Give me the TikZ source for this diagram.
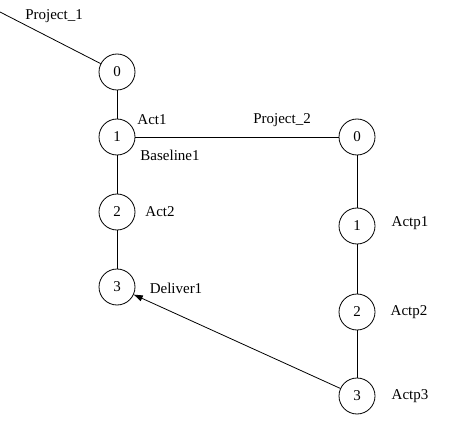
\documentclass[tikz,border=0pt]{standalone}
\usepackage{fontspec}
\setmainfont{Liberation Serif}
\usetikzlibrary{arrows.meta}
\begin{document}
\begin{tikzpicture}[x=1pt,y=-1pt,
  state/.style={circle,draw,line width=0.8pt,minimum size=36pt,inner sep=0pt,font=\fontsize{15}{18}\selectfont},
  lbl/.style={font=\fontsize{15}{18}\selectfont,inner sep=0pt},
  link/.style={line width=0.8pt}]
\useasboundingbox (0,0) rectangle (450,433);
% first project chain
\coordinate (start) at (0,12);
\node[state] (a0) at (117,72) {0};
\node[state] (a1) at (117,137) {1};
\node[state] (a2) at (117,212) {2};
\node[state] (a3) at (117,287) {3};
% second project chain
\node[state] (b0) at (357,137) {0};
\node[state] (b1) at (357,226) {1};
\node[state] (b2) at (357,312) {2};
\node[state] (b3) at (357,396) {3};
% connectors
\draw[link] (start) -- (a0);
\draw[link] (a0) -- (a1);
\draw[link] (a1) -- (a2);
\draw[link] (a2) -- (a3);
\draw[link] (a1) -- (b0);
\draw[link] (b0) -- (b1);
\draw[link] (b1) -- (b2);
\draw[link] (b2) -- (b3);
\draw[link,-{Triangle[length=9pt,width=6pt]}] (b3) -- (a3);
% labels
\node[lbl] at (54,16) {Project\_1};
\node[lbl] at (152,120) {Act1};
\node[lbl] at (170,155) {Baseline1};
\node[lbl] at (282,120) {Project\_2};
\node[lbl] at (160,212) {Act2};
\node[lbl] at (176,288) {Deliver1};
\node[lbl] at (410,223) {Actp1};
\node[lbl] at (409,312) {Actp2};
\node[lbl] at (410,396) {Actp3};
\end{tikzpicture}
\end{document}
